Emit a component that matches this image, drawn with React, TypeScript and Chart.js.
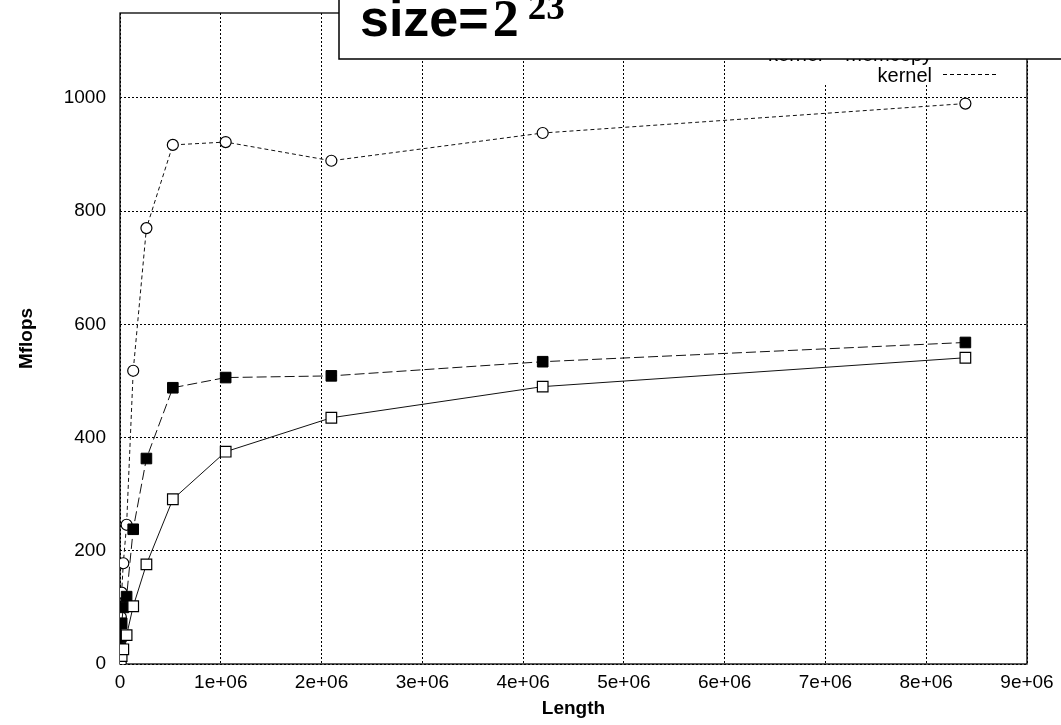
import React, { useEffect, useRef } from "react";
import { Chart, registerables } from "chart.js";

Chart.register(...registerables);

// ---- data ----
const lengths = [1024, 2048, 4096, 8192, 16384, 32768, 65536, 131072, 262144, 524288, 1048576, 2097152, 4194304, 8388608];
// open squares, solid line (legend entry hidden under the title box)
const seriesOpenSquares = [1, 2, 4, 8, 14, 26, 51, 102, 176, 291, 375, 435, 490, 541];
// filled squares, long dashes: "kernel + memcopy"
const seriesKernelMemcopy = [7, 15, 28, 48, 72, 100, 119, 238, 363, 488, 506, 509, 534, 568];
// open circles, short dashes: "kernel"
const seriesKernel = [13, 26, 48, 83, 126, 178, 246, 518, 770, 917, 922, 889, 938, 990];

const xTicks = [0, 1e6, 2e6, 3e6, 4e6, 5e6, 6e6, 7e6, 8e6, 9e6];
const yTicks = [0, 200, 400, 600, 800, 1000];
const legendLabels = ["kernel + memcopy", "kernel"];
const titleMain = "size=";
const titleBase = "2";
const titleExp = "23";

const FONT = '"Liberation Sans", Arial, sans-serif';
const SERIF = '"Liberation Serif", "Times New Roman", serif';

const toPoints = (ys: number[]) => lengths.map((x, i) => ({ x, y: ys[i] }));

export default function App() {
  const canvasRef = useRef<HTMLCanvasElement | null>(null);

  useEffect(() => {
    const canvas = canvasRef.current;
    if (!canvas) return;

    const decorPlugin = {
      id: "decor",
      beforeDatasetsDraw(chart: any) {
        const { ctx, chartArea } = chart;
        ctx.save();
        // key area clears grid
        ctx.fillStyle = "#fff";
        ctx.fillRect(755, chartArea.top + 1, 252, 84 - chartArea.top);
        // frame
        ctx.strokeStyle = "#000";
        ctx.lineWidth = 1.3;
        ctx.setLineDash([]);
        ctx.strokeRect(chartArea.left, chartArea.top, chartArea.right - chartArea.left, chartArea.bottom - chartArea.top);
        ctx.restore();
      },
      afterDatasetsDraw(chart: any) {
        const { ctx } = chart;
        ctx.save();
        ctx.font = `20px ${FONT}`;
        ctx.fillStyle = "#000";
        ctx.textAlign = "right";
        ctx.textBaseline = "alphabetic";
        const rows = [
          { text: legendLabels[0], base: 61, dash: [10, 4] },
          { text: legendLabels[1], base: 82, dash: [4, 3] },
        ];
        rows.forEach((r) => {
          ctx.fillText(r.text, 932, r.base);
          ctx.beginPath();
          ctx.setLineDash(r.dash);
          ctx.strokeStyle = "#000";
          ctx.lineWidth = 1;
          ctx.moveTo(943, r.base - 7.5);
          ctx.lineTo(998, r.base - 7.5);
          ctx.stroke();
        });
        ctx.restore();
      },
      afterDraw(chart: any) {
        const { ctx } = chart;
        ctx.save();
        // title box overlay
        ctx.fillStyle = "#fff";
        ctx.fillRect(339, -5, 800, 64);
        ctx.strokeStyle = "#000";
        ctx.lineWidth = 1.5;
        ctx.setLineDash([]);
        ctx.beginPath();
        ctx.moveTo(339, -2);
        ctx.lineTo(339, 59);
        ctx.lineTo(1070, 59);
        ctx.stroke();
        ctx.fillStyle = "#000";
        ctx.textAlign = "left";
        ctx.textBaseline = "alphabetic";
        ctx.font = `bold 52px ${FONT}`;
        ctx.fillText(titleMain, 360, 36);
        const w1 = ctx.measureText(titleMain).width;
        ctx.font = `bold 52px ${SERIF}`;
        ctx.fillText(titleBase, 360 + w1 + 4, 36);
        const w2 = ctx.measureText(titleBase).width;
        ctx.font = `bold 37px ${SERIF}`;
        ctx.fillText(titleExp, 360 + w1 + 4 + w2 + 9, 19);
        ctx.restore();
      },
    };

    const chart = new Chart(canvas, {
      type: "line",
      data: {
        datasets: [
          {
            label: "kernel + memcopy (total)",
            data: toPoints(seriesOpenSquares),
            borderColor: "#111",
            borderWidth: 1,
            pointStyle: "rect",
            pointRadius: 7.5,
            pointBackgroundColor: "#fff",
            pointBorderColor: "#000",
            pointBorderWidth: 1.2,
          },
          {
            label: legendLabels[0],
            data: toPoints(seriesKernelMemcopy),
            borderColor: "#111",
            borderWidth: 1,
            borderDash: [10, 4],
            pointStyle: "rect",
            pointRadius: 7.5,
            pointBackgroundColor: "#000",
            pointBorderColor: "#000",
            pointBorderWidth: 1,
          },
          {
            label: legendLabels[1],
            data: toPoints(seriesKernel),
            borderColor: "#111",
            borderWidth: 1,
            borderDash: [4, 3],
            pointStyle: "circle",
            pointRadius: 5.5,
            pointBackgroundColor: "#fff",
            pointBorderColor: "#000",
            pointBorderWidth: 1.2,
          },
        ],
      },
      options: {
        animation: false,
        responsive: false,
        maintainAspectRatio: false,
        layout: { padding: { left: 0, top: 13, right: 34, bottom: 0 } },
        plugins: { legend: { display: false }, tooltip: { enabled: false } },
        elements: { line: { tension: 0 } },
        scales: {
          x: {
            type: "linear",
            min: xTicks[0],
            max: xTicks[xTicks.length - 1],
            afterBuildTicks: (s: any) => {
              s.ticks = xTicks.map((v) => ({ value: v }));
            },
            afterFit: (s: any) => {
              s.height = 61;
              s.paddingLeft = 0;
              s.paddingRight = 0;
            },
            ticks: {
              padding: 7,
              color: "#000",
              font: { family: FONT, size: 19 },
              callback: (v: any) => (v === 0 ? "0" : `${Math.round(v / 1e6)}e+06`),
            },
            grid: { color: "#000", lineWidth: 1, drawTicks: false },
            border: { display: false, dash: [2, 2] },
            title: {
              display: true,
              text: "Length",
              color: "#000",
              font: { family: FONT, size: 19, weight: "bold" },
              padding: { top: 0, bottom: 5 },
            },
          },
          y: {
            type: "linear",
            min: 0,
            max: 1150,
            afterBuildTicks: (s: any) => {
              s.ticks = yTicks.map((v) => ({ value: v }));
            },
            afterFit: (s: any) => {
              s.width = 120;
              s.paddingTop = 0;
              s.paddingBottom = 0;
            },
            ticks: {
              padding: 14,
              color: "#000",
              font: { family: FONT, size: 19 },
              callback: (v: any) => String(v),
            },
            grid: { color: "#000", lineWidth: 1, drawTicks: false },
            border: { display: false, dash: [2, 2] },
            title: {
              display: true,
              text: "Mflops",
              color: "#000",
              font: { family: FONT, size: 19, weight: "bold" },
              padding: { top: 15, bottom: 0 },
            },
          },
        },
      },
      plugins: [decorPlugin],
    } as any);

    return () => chart.destroy();
  }, []);

  return (
    <div style={{ position: "fixed", left: 0, top: 0, width: 1061, height: 725, background: "#fff" }}>
      <canvas ref={canvasRef} width={1061} height={725} style={{ width: 1061, height: 725, display: "block" }} />
    </div>
  );
}
